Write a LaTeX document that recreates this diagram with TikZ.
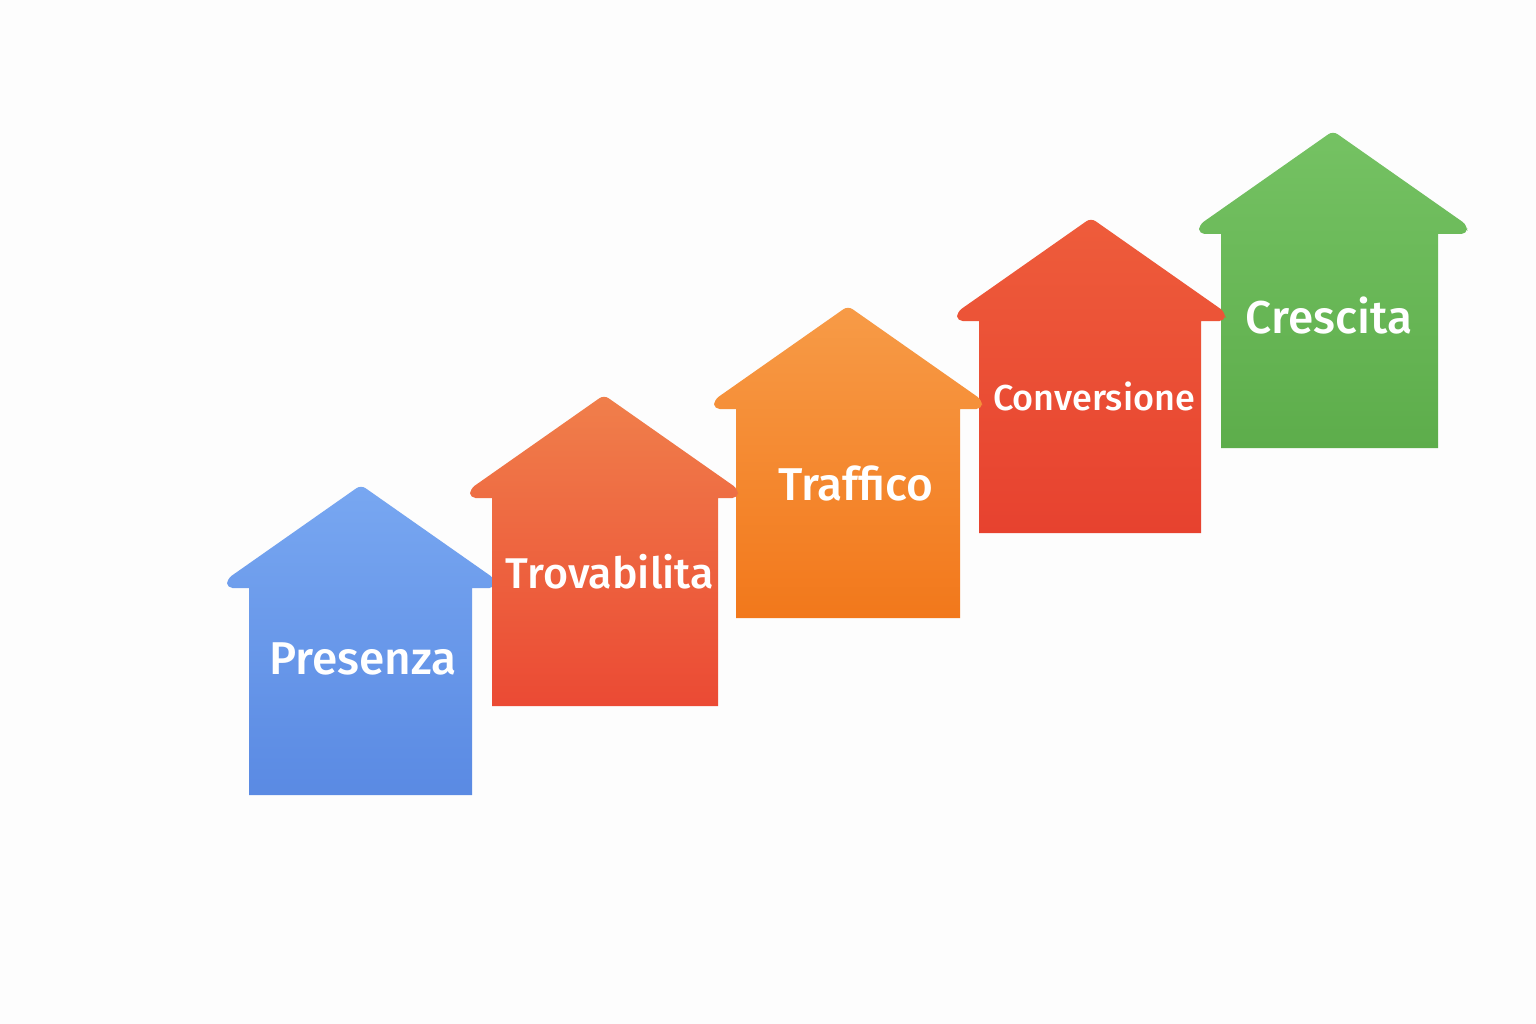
\documentclass[tikz,border=0pt]{standalone}
\usepackage{fontspec}
\setmainfont{Fira Sans}[BoldFont={Fira Sans Medium}]
\definecolor{bg}{HTML}{FDFDFD}
\definecolor{blueT}{HTML}{78A7F1}
\definecolor{blueB}{HTML}{5A8AE3}
\definecolor{oraT}{HTML}{F07F4B}
\definecolor{oraB}{HTML}{EB4A34}
\definecolor{ambT}{HTML}{F79B47}
\definecolor{ambB}{HTML}{F2781B}
\definecolor{redT}{HTML}{EE5C3B}
\definecolor{redB}{HTML}{E7422F}
\definecolor{grnT}{HTML}{75C263}
\definecolor{grnB}{HTML}{5DAD4B}
\tikzset{
  lbl/.style={text=white, font=\bfseries\fontsize{46}{46}\selectfont, anchor=base, inner sep=0pt},
  lblmid/.style={lbl, font=\bfseries\fontsize{43}{43}\selectfont},
  lblsmall/.style={lbl, font=\bfseries\fontsize{36}{36}\selectfont}
}
% #1 apex x, #2 top, #3 body left, #4 body right, #5 bottom, #6 top colour, #7 bottom colour
\newcommand\myhouse[7]{%
  \shade[top color=#6, bottom color=#7]
    (#3,#5) -- (#3,#2+103)
    [rounded corners=5.5pt] -- (#1-134,#2+103) -- (#1-134,#2+94)
    -- (#1,#2) -- (#1+134,#2+94) -- (#1+134,#2+103) [sharp corners]
    -- (#4,#2+103) -- (#4,#5) -- cycle;
}
\begin{document}
\begin{tikzpicture}[x=1pt,y=-1pt]
\fill[bg] (0,0) rectangle (1536,1024);
\useasboundingbox (0,0) rectangle (1536,1024);
\myhouse{1333}{131}{1221}{1438}{448}{grnT}{grnB}
\myhouse{1091}{218}{979}{1201}{533}{redT}{redB}
\myhouse{848}{306}{736}{960}{618}{ambT}{ambB}
\myhouse{361}{485}{249}{472}{795}{blueT}{blueB}
\myhouse{604}{395}{492}{718}{706}{oraT}{oraB}
\node[lbl] (t1) at (363,674) {Presenza};
\node[lblmid] (t2) at (610,588) {Trovabilita};
\node[lbl] (t3) at (856,500) {Traffico};
\node[lblsmall] (t4) at (1094,410) {Conversione};
\node[lbl] (t5) at (1329,333) {Crescita};
\end{tikzpicture}
\end{document}
